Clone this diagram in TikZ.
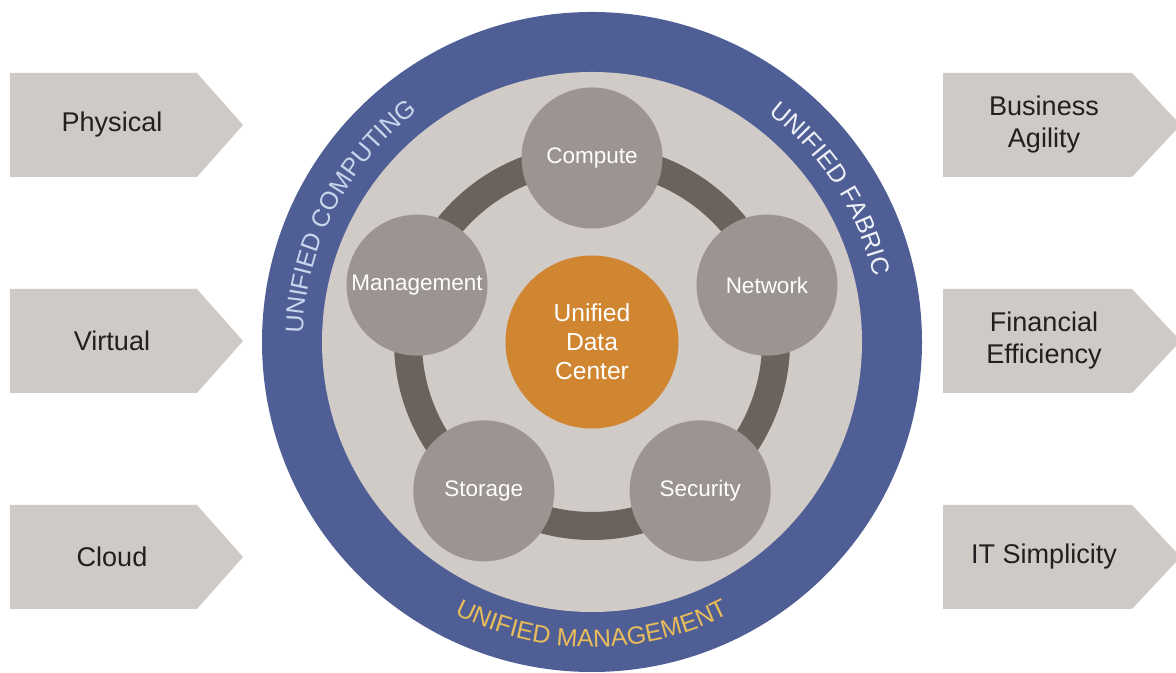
\documentclass[tikz,border=0pt]{standalone}
\usepackage{fontspec}
\setmainfont{Liberation Sans}
\usetikzlibrary{calc,decorations.text}
\definecolor{bandblue}{HTML}{4F5F95}
\definecolor{innergray}{HTML}{D1CBC7}
\definecolor{ringgray}{HTML}{6A625D}
\definecolor{partgray}{HTML}{9B9490}
\definecolor{hubor}{HTML}{D08531}
\definecolor{taggray}{HTML}{D0CAC6}
\definecolor{tagink}{HTML}{231F20}
\definecolor{compink}{HTML}{C9D5EC}
\definecolor{fabink}{HTML}{EEF1F7}
\definecolor{mgmtink}{HTML}{E8BC5A}
\pgfdeclarelayer{bg}
\pgfdeclarelayer{ringlayer}
\pgfsetlayers{bg,ringlayer,main}
\tikzset{part/.style={circle,fill=partgray,text=white,minimum size=2.82cm,inner sep=0pt,font=\fontsize{12.8}{15}\selectfont}}
\tikzset{hub/.style={circle,fill=hubor,text=white,minimum size=3.46cm,inner sep=0pt,align=center,font=\fontsize{14}{16.5}\selectfont}}
\tikzset{tag/.style={fill=taggray}}
\tikzset{tagtext/.style={align=center,text=tagink,font=\fontsize{15.4}{18.2}\selectfont}}
\tikzset{ring/.style={draw=ringgray,line width=0.56cm}}
\newcommand{\bandfont}{\fontsize{14.2}{16}\selectfont}

\begin{document}
\begin{tikzpicture}
  \useasboundingbox (0,0) rectangle (23.52,13.46);
  \coordinate (C) at (11.84,6.62);
  % discs
  \begin{pgfonlayer}{bg}
    \fill[bandblue] (C) circle (6.6);
    \fill[innergray] (C) circle (5.4);
  \end{pgfonlayer}
  % tags left and right
  \foreach \y in {10.96,6.64,2.32} {
    \fill[tag] (0.2,\y-1.04) -- (3.94,\y-1.04) -- (4.86,\y) -- (3.94,\y+1.04) -- (0.2,\y+1.04) -- cycle;
    \fill[tag] (18.86,\y-1.04) -- (22.64,\y-1.04) -- (23.52,\y-0.1) -- (23.52,\y+0.1) -- (22.64,\y+1.04) -- (18.86,\y+1.04) -- cycle;
  }
  \node[tagtext] (phys) at (2.24,10.96) {Physical};
  \node[tagtext] (virt) at (2.24,6.64) {Virtual};
  \node[tagtext] (cloud) at (2.24,2.32) {Cloud};
  \node[tagtext] (agil) at (20.88,10.96) {Business\\Agility};
  \node[tagtext] (fin) at (20.88,6.64) {Financial\\Efficiency};
  \node[tagtext] (simp) at (20.88,2.32) {IT Simplicity};
  % pentagon
  \node[hub] (udc) at (C) {Unified\\Data\\Center};
  \node[part] (comp) at ($(C)+(90:3.68)$) {Compute};
  \node[part] (netw) at ($(C)+(18:3.68)$) {Network};
  \node[part] (secu) at ($(C)+(-54:3.68)$) {Security};
  \node[part] (stor) at ($(C)+(-126:3.68)$) {Storage};
  \node[part] (mgmt) at ($(C)+(162:3.68)$) {Management};
  \begin{pgfonlayer}{ringlayer}
    \foreach \a/\s in {comp/90,netw/18,secu/-54,stor/-126,mgmt/162}
      \draw[ring] (\a.center) arc[start angle=\s, delta angle=-72, radius=3.68];
  \end{pgfonlayer}
  % band texts
  \path[decorate,decoration={text along path,text align=center,text color=compink,
      text={|\bandfont|UNIFIED COMPUTING}}]
    ($(C)+(197.7:5.78)$) arc[start angle=197.7, end angle=107.7, radius=5.78];
  \path[decorate,decoration={text along path,text align=center,text color=fabink,
      text={|\bandfont|UNIFIED FABRIC}}]
    ($(C)+(72.7:5.78)$) arc[start angle=72.7, end angle=-7.3, radius=5.78];
  \path[decorate,decoration={text along path,text align=center,text color=mgmtink,
      text={|\bandfont|UNIFIED MANAGEMENT}}]
    ($(C)+(220:6.1)$) arc[start angle=220, end angle=320, radius=6.1];
\end{tikzpicture}
\end{document}
